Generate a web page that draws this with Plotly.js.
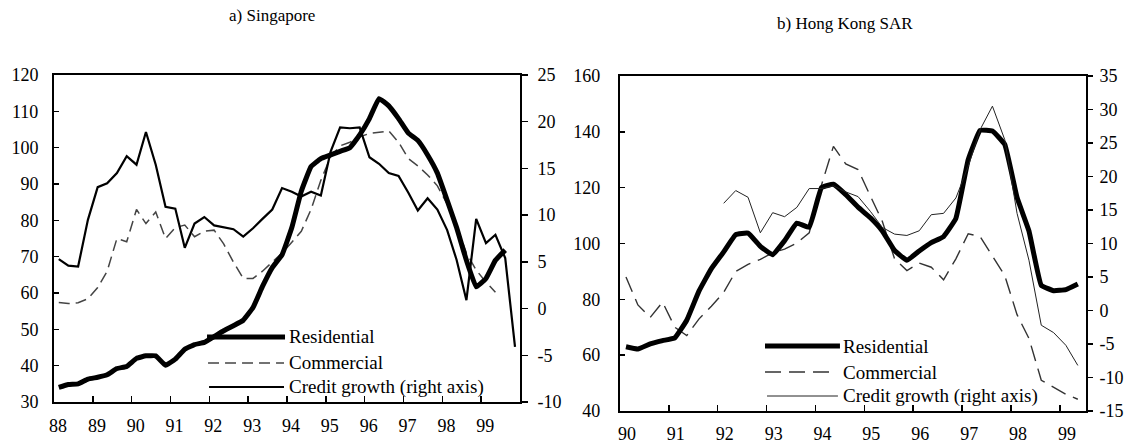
<!DOCTYPE html>
<html>
<head>
<meta charset="utf-8">
<script src="https://cdn.plot.ly/plotly-3.0.1.min.js"></script>
<style>html,body{margin:0;padding:0;background:#fff;}#chart{width:1127px;height:446px;}</style>
</head>
<body>
<div id="chart"></div>
<script>
// ---------- Data (quarterly) ----------
// a) Singapore: starts 1988 Q1
const sgStart = [1988, 1];
const sgResidential = [34.0, 34.8, 35.0, 36.3, 36.8, 37.5, 39.2, 39.8, 42.0, 42.7,
  42.7, 40.1, 41.8, 44.5, 45.8, 46.4, 48.0, 49.6, 51.0, 52.5,
  56.0, 61.8, 67.0, 70.5, 78.0, 88.0, 94.8, 97.0, 98.0, 99.0,
  100.0, 103.5, 108.0, 113.5, 111.5, 108.0, 104.0, 102.0, 98.0, 93.0,
  85.5, 78.0, 69.0, 61.7, 64.0, 69.0, 71.8];
const sgCommercial = [57.4, 57.1, 57.3, 58.4, 61.5, 66.0, 75.0, 74.1, 83.0, 79.1,
  82.3, 75.0, 78.0, 78.7, 75.5, 77.0, 77.3, 73.5, 68.5, 64.0,
  64.0, 66.0, 68.5, 71.0, 74.0, 77.0, 83.0, 91.0, 97.5, 100.5,
  101.5, 103.0, 103.9, 104.3, 104.6, 101.5, 97.0, 95.0, 92.5, 89.5,
  84.5, 78.5, 71.0, 66.3, 63.0, 60.2];
const sgCredit = [5.3, 4.6, 4.5, 9.5, 13.0, 13.4, 14.5, 16.3, 15.4, 18.9,
  15.4, 10.9, 10.7, 6.5, 9.1, 9.8, 8.9, 8.7, 8.5, 7.7,
  8.6, 9.6, 10.6, 12.9, 12.5, 12.0, 12.5, 12.1, 16.8, 19.4,
  19.3, 19.4, 16.2, 15.5, 14.5, 14.2, 12.4, 10.5, 11.8, 10.6,
  8.4, 5.2, 0.9, 9.6, 7.0, 7.9, 5.4, -4.1];

// b) Hong Kong SAR: property prices start 1990 Q1, credit growth starts 1992 Q1
const hkStart = [1990, 1];
const hkCreditStart = [1992, 1];
const hkResidential = [63.0, 62.2, 64.0, 65.2, 66.2, 72.5, 83.0, 91.0, 97.0, 103.2,
  103.7, 99.0, 96.0, 101.0, 107.3, 105.8, 120.0, 121.2, 117.5, 113.0,
  109.2, 104.5, 97.5, 94.0, 97.3, 100.3, 102.5, 109.0, 130.0, 140.5,
  140.3, 135.5, 116.5, 104.5, 85.0, 83.1, 83.5, 85.5];
const hkCommercial = [88.0, 78.0, 73.5, 79.0, 70.0, 67.0, 73.0, 77.5, 82.5, 90.0,
  92.5, 94.3, 96.7, 98.0, 100.2, 103.8, 121.0, 134.8, 128.5, 126.5,
  117.0, 108.0, 94.5, 90.3, 93.0, 91.5, 87.0, 94.5, 103.5, 102.5,
  95.5, 88.5, 74.5, 66.0, 51.0, 48.4, 46.0, 44.2];
const hkCredit = [16.0, 17.9, 16.9, 11.6, 14.6, 14.0, 15.4, 18.2, 18.2, 18.6,
  17.7, 17.0, 14.8, 12.4, 11.4, 11.2, 11.9, 14.3, 14.5, 16.8,
  21.5, 27.0, 30.5, 25.5, 14.5, 7.5, -2.2, -3.3, -5.2, -8.2];

// Tick labels
const sgYears = [1988, 1989, 1990, 1991, 1992, 1993, 1994, 1995, 1996, 1997, 1998, 1999];
const hkYears = [1990, 1991, 1992, 1993, 1994, 1995, 1996, 1997, 1998, 1999];
const sgLeftTicks = [30, 40, 50, 60, 70, 80, 90, 100, 110, 120];
const sgRightTicks = [-10, -5, 0, 5, 10, 15, 20, 25];
const hkLeftTicks = [40, 60, 80, 100, 120, 140, 160];
const hkRightTicks = [-15, -10, -5, 0, 5, 10, 15, 20, 25, 30, 35];
const seriesNames = ['Residential', 'Commercial', 'Credit growth (right axis)'];
const titles = ['a) Singapore', 'b) Hong Kong SAR'];

// ---------- Helpers ----------
// quarter -> mid-quarter date string
function quarterDates(start, n) {
  const out = [];
  let y = start[0], q = start[1];
  for (let i = 0; i < n; i++) {
    const m = 3 * (q - 1) + 2;
    out.push(y + '-' + (m < 10 ? '0' + m : m) + '-15');
    q++; if (q > 4) { q = 1; y++; }
  }
  return out;
}
const yearDate = y => y + '-01-01';
const yrLabel = y => String(y).slice(2);
const numLabel = v => String(v); // plain hyphen minus as in the source

const FONT = '"Liberation Serif", "Times New Roman", Times, "DejaVu Serif", serif';

const traces = [
  // Singapore
  {x: quarterDates(sgStart, sgCommercial.length), y: sgCommercial, name: seriesNames[1], xaxis: 'x', yaxis: 'y',
   mode: 'lines', line: {color: '#444', width: 1.5, dash: '11px,6px'}},
  {x: quarterDates(sgStart, sgCredit.length), y: sgCredit, name: seriesNames[2], xaxis: 'x', yaxis: 'y2',
   mode: 'lines', line: {color: '#000', width: 2.2}},
  {x: quarterDates(sgStart, sgResidential.length), y: sgResidential, name: seriesNames[0], xaxis: 'x', yaxis: 'y',
   mode: 'lines', line: {color: '#000', width: 5, shape: 'spline', smoothing: 0.3}},
  // Hong Kong
  {x: quarterDates(hkStart, hkCommercial.length), y: hkCommercial, name: seriesNames[1], xaxis: 'x2', yaxis: 'y3',
   mode: 'lines', line: {color: '#333', width: 1.4, dash: '16px,8px'}},
  {x: quarterDates(hkCreditStart, hkCredit.length), y: hkCredit, name: seriesNames[2], xaxis: 'x2', yaxis: 'y4',
   mode: 'lines', line: {color: '#222', width: 1}},
  {x: quarterDates(hkStart, hkResidential.length), y: hkResidential, name: seriesNames[0], xaxis: 'x2', yaxis: 'y3',
   mode: 'lines', line: {color: '#000', width: 5, shape: 'spline', smoothing: 0.3}}
];

const axisCommon = {
  showgrid: false, zeroline: false, showline: true, linecolor: '#000', linewidth: 2,
  tickcolor: '#000', tickwidth: 1.5, tickfont: {family: FONT, size: 18, color: '#000'}
};

const layout = {
  width: 1127, height: 446,
  margin: {l: 0, r: 0, t: 0, b: 0},
  paper_bgcolor: '#fff', plot_bgcolor: '#fff',
  showlegend: false,
  font: {family: FONT, size: 18, color: '#000'},
  xaxis: Object.assign({}, axisCommon, {
    domain: [0.0479, 0.4614], anchor: 'y', type: 'date',
    range: [yearDate(1988), yearDate(2000)],
    tickvals: sgYears.map(yearDate), ticktext: sgYears.map(yrLabel),
    ticks: 'inside', ticklen: 6, mirror: true, ticklabelshift: 4, ticklabelstandoff: 6
  }),
  yaxis: Object.assign({}, axisCommon, {
    domain: [0.0987, 0.8318], anchor: 'x', range: [30, 120],
    tickvals: sgLeftTicks, ticktext: sgLeftTicks.map(numLabel),
    ticks: 'inside', ticklen: 5, ticklabelstandoff: 10
  }),
  yaxis2: Object.assign({}, axisCommon, {
    overlaying: 'y', side: 'right', anchor: 'x', range: [-10, 25],
    tickvals: sgRightTicks, ticktext: sgRightTicks.map(numLabel),
    ticks: 'outside', ticklen: 6, ticklabelstandoff: 6
  }),
  xaxis2: Object.assign({}, axisCommon, {
    domain: [0.5501, 0.9636], anchor: 'y3', type: 'date',
    range: [yearDate(1990), '1999-07-15'],
    tickvals: hkYears.map(yearDate), ticktext: hkYears.map(yrLabel),
    ticks: 'inside', ticklen: 6, mirror: true, ticklabelshift: 7, ticklabelstandoff: 5
  }),
  yaxis3: Object.assign({}, axisCommon, {
    domain: [0.0785, 0.8296], anchor: 'x2', range: [40, 160],
    tickvals: hkLeftTicks, ticktext: hkLeftTicks.map(numLabel),
    ticks: 'inside', ticklen: 5, ticklabelstandoff: 14
  }),
  yaxis4: Object.assign({}, axisCommon, {
    overlaying: 'y3', side: 'right', anchor: 'x2', range: [-15, 35],
    tickvals: hkRightTicks, ticktext: hkRightTicks.map(numLabel),
    ticks: 'outside', ticklen: 5, ticklabelstandoff: 3
  }),
  annotations: [
    {text: titles[0], xref: 'paper', yref: 'paper', x: 0.2414, y: 0.966, showarrow: false,
     xanchor: 'center', yanchor: 'middle', font: {family: FONT, size: 17}},
    {text: titles[1], xref: 'paper', yref: 'paper', x: 0.7497, y: 0.948, showarrow: false,
     xanchor: 'center', yanchor: 'middle', font: {family: FONT, size: 17}},
    // legend texts, Singapore
    {text: seriesNames[0], xref: 'paper', yref: 'paper', x: 0.2546, y: 0.2444, showarrow: false, xanchor: 'left', yanchor: 'middle', font: {family: FONT, size: 19}},
    {text: seriesNames[1], xref: 'paper', yref: 'paper', x: 0.2546, y: 0.1861, showarrow: false, xanchor: 'left', yanchor: 'middle', font: {family: FONT, size: 19}},
    {text: seriesNames[2], xref: 'paper', yref: 'paper', x: 0.2546, y: 0.1323, showarrow: false, xanchor: 'left', yanchor: 'middle', font: {family: FONT, size: 19}},
    // legend texts, Hong Kong
    {text: seriesNames[0], xref: 'paper', yref: 'paper', x: 0.7462, y: 0.2242, showarrow: false, xanchor: 'left', yanchor: 'middle', font: {family: FONT, size: 19}},
    {text: seriesNames[1], xref: 'paper', yref: 'paper', x: 0.7462, y: 0.1659, showarrow: false, xanchor: 'left', yanchor: 'middle', font: {family: FONT, size: 19}},
    {text: seriesNames[2], xref: 'paper', yref: 'paper', x: 0.7462, y: 0.1121, showarrow: false, xanchor: 'left', yanchor: 'middle', font: {family: FONT, size: 19}}
  ],
  shapes: [
    // legend samples, Singapore
    {type: 'line', xref: 'paper', yref: 'paper', x0: 0.1837, x1: 0.2529, y0: 0.2444, y1: 0.2444, line: {color: '#000', width: 5}},
    {type: 'line', xref: 'paper', yref: 'paper', x0: 0.1846, x1: 0.2520, y0: 0.1861, y1: 0.1861, line: {color: '#444', width: 1.5, dash: '11px,6px'}},
    {type: 'line', xref: 'paper', yref: 'paper', x0: 0.1855, x1: 0.2520, y0: 0.1323, y1: 0.1323, line: {color: '#000', width: 2.2}},
    // legend samples, Hong Kong
    {type: 'line', xref: 'paper', yref: 'paper', x0: 0.6788, x1: 0.7453, y0: 0.2242, y1: 0.2242, line: {color: '#000', width: 5}},
    {type: 'line', xref: 'paper', yref: 'paper', x0: 0.6788, x1: 0.7391, y0: 0.1659, y1: 0.1659, line: {color: '#333', width: 1.4, dash: '16px,8px'}},
    {type: 'line', xref: 'paper', yref: 'paper', x0: 0.6806, x1: 0.7435, y0: 0.1121, y1: 0.1121, line: {color: '#222', width: 1}}
  ]
};

Plotly.newPlot('chart', traces, layout, {staticPlot: true, displayModeBar: false});
</script>
</body>
</html>
